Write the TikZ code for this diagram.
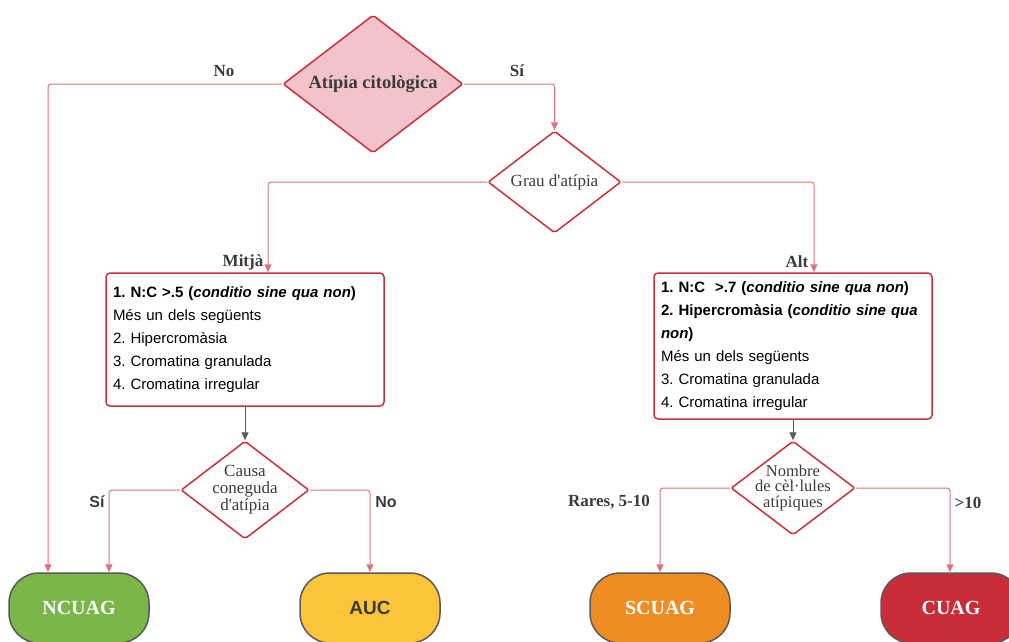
\documentclass[tikz,border=0pt]{standalone}
\usepackage{fontspec}
\setmainfont{Liberation Serif}
\setsansfont{Liberation Sans}
\usetikzlibrary{shapes.geometric,arrows.meta}
\definecolor{flowred}{HTML}{CC2F3B}
\definecolor{connpink}{HTML}{E0707D}
\definecolor{rosefill}{HTML}{F2C3C8}
\definecolor{textgray}{HTML}{3B3B3B}
\definecolor{termgray}{HTML}{5A5A5A}
\definecolor{ncgreen}{HTML}{7AB648}
\definecolor{aucyellow}{HTML}{FCC438}
\definecolor{scorange}{HTML}{EF8D22}
\definecolor{cured}{HTML}{C92D39}
\frenchspacing
\begin{document}
\begin{tikzpicture}[x=1pt,y=-1pt,
  decision/.style={diamond, draw=flowred, line width=1.5pt, rounded corners=2pt,
    aspect=1.3, inner sep=-10pt, text=textgray, align=center},
  criteria/.style={rectangle, draw=flowred, line width=1.5pt, rounded corners=4pt,
    text width=264pt, align=left, inner xsep=7pt, inner ysep=8pt,
    font=\sffamily\fontsize{15}{23}\selectfont},
  terminal/.style={rectangle, draw=termgray, line width=1.5pt, rounded corners=30pt,
    minimum width=140pt, minimum height=70pt},
  conn/.style={draw=connpink, line width=1pt, rounded corners=3pt,
    -{Triangle[width=7pt,length=8pt]}},
  flow/.style={draw=termgray, line width=1pt, -{Triangle[width=7pt,length=8pt]}},
  lab/.style={font=\bfseries\fontsize{17}{17}\selectfont, text=textgray},
  slab/.style={font=\sffamily\bfseries\fontsize{16}{16}\selectfont, text=textgray}]
  \useasboundingbox (0,0) rectangle (1009,641);
  % decisions
  \node [decision, fill=rosefill, minimum width=180pt, minimum height=138pt,
    font=\bfseries\fontsize{18.5}{18.5}\selectfont] (atipia) at (373,84) {Atípia citològica};
  \node [decision, fill=white, minimum width=133pt, minimum height=102pt,
    font=\fontsize{17}{17}\selectfont] (grau) at (554.5,182) {Grau d\textquotesingle atípia};
  \node [decision, fill=white, minimum width=128pt, minimum height=98pt,
    font=\fontsize{17}{17}\selectfont] (causa) at (245,490) {Causa\\coneguda\\d\textquotesingle atípia};
  \node [decision, fill=white, minimum width=124pt, minimum height=94pt,
    font=\fontsize{16.5}{15.5}\selectfont] (nombre) at (793,488) {Nombre\\de cèl·lules\\atípiques};
  % criteria boxes
  \node [criteria, minimum height=133pt] (mitja) at (245,339.5)
    {\textbf{1. N:C >.5 (\textit{conditio sine qua non})}\\
     Més un dels següents\\
     2. Hipercromàsia\\
     3. Cromatina granulada\\
     4. Cromatina irregular};
  \node [criteria, minimum height=146pt] (alt) at (793,346)
    {\textbf{1. N:C\ \ >.7 (\textit{conditio sine qua non})}\\
     \textbf{2. Hipercromàsia (\textit{conditio sine qua}}\\
     \textbf{\textit{non})}\\
     Més un dels següents\\
     3. Cromatina granulada\\
     4. Cromatina irregular};
  % results
  \node [terminal, fill=ncgreen, text=white, font=\bfseries\fontsize{20}{20}\selectfont]
    (ncuag) at (79,608) {NCUAG};
  \node [terminal, fill=aucyellow, text=textgray, font=\sffamily\bfseries\fontsize{19}{19}\selectfont]
    (auc) at (370,608) {AUC};
  \node [terminal, fill=scorange, text=white, font=\bfseries\fontsize{20}{20}\selectfont]
    (scuag) at (660,608) {SCUAG};
  \node [terminal, fill=cured, text=white, font=\bfseries\fontsize{20}{20}\selectfont]
    (cuag) at (951,608) {CUAG};
  % labels
  \node [lab] (no1) at (224,71) {No};
  \node [lab] (si1) at (517,71) {Sí};
  \node [lab] (mig) at (243,262) {Mitjà};
  \node [lab] (alta) at (797,262) {Alt};
  \node [slab] (si2) at (97,502) {Sí};
  \node [slab] (no2) at (386,502) {No};
  \node [lab] (rares) at (609,502) {Rares, 5-10};
  \node [lab] (mes10) at (968,503) {>10};
  % connectors
  \draw [conn] (atipia.west) -| ([xshift=-31pt]ncuag.north);
  \draw [conn] (atipia.east) -| (grau.north);
  \draw [conn] (grau.west) -| ([xshift=23pt]mitja.north);
  \draw [conn] (grau.east) -| ([xshift=21pt]alt.north);
  \draw [flow] (mitja.south) -- (causa.north);
  \draw [flow] (alt.south) -- (nombre.north);
  \draw [conn] (causa.west) -| ([xshift=30pt]ncuag.north);
  \draw [conn] (causa.east) -| (auc.north);
  \draw [conn] (nombre.west) -| (scuag.north);
  \draw [conn] (nombre.east) -| ([xshift=-1pt]cuag.north);
\end{tikzpicture}
\end{document}
